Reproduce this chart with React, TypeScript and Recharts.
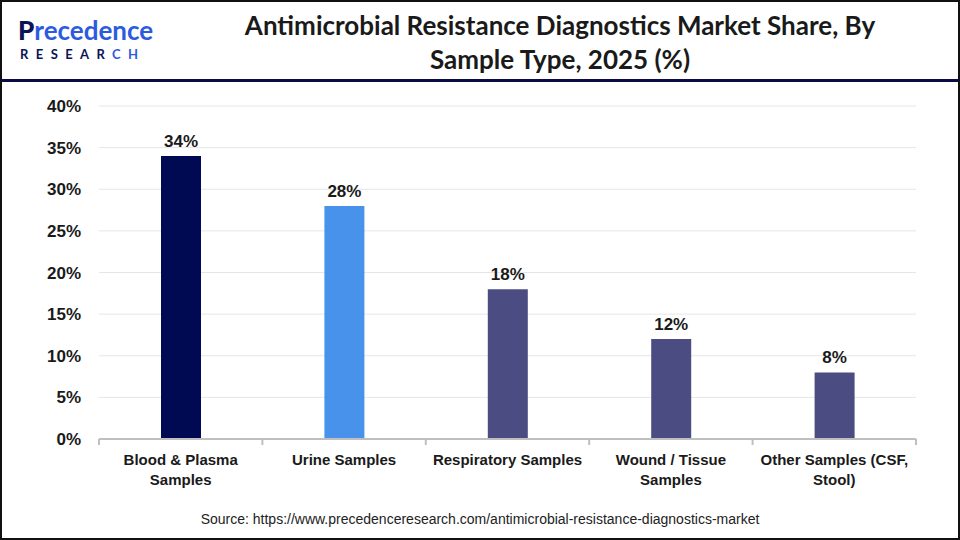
import { BarChart, Bar, XAxis, YAxis, CartesianGrid, LabelList, Cell } from "recharts";

const categories = [
  "Blood & Plasma\nSamples",
  "Urine Samples",
  "Respiratory Samples",
  "Wound / Tissue\nSamples",
  "Other Samples (CSF,\nStool)",
];
const shares = [34, 28, 18, 12, 8];
const barColors = ["#000a52", "#4992ec", "#4b4d82", "#4b4d82", "#4b4d82"];
const yTicks = [0, 5, 10, 15, 20, 25, 30, 35, 40];

const data = categories.map((name, i) => ({ name, value: shares[i] }));

const CategoryTick = (props: any) => {
  const { x, y, payload, index, visibleTicksCount } = props;
  const half = payload.offset ?? 81.7;
  const lines = String(payload.value).split("\n");
  const isLast = index === (visibleTicksCount ?? categories.length) - 1;
  return (
    <g>
      <line x1={x - half} x2={x - half} y1={y} y2={y + 6} stroke="#bfbfbf" strokeWidth={2} />
      {isLast && <line x1={x + half} x2={x + half} y1={y} y2={y + 6} stroke="#bfbfbf" strokeWidth={2} />}
      {lines.map((t, i) => (
        <text
          key={i}
          x={x}
          y={y + 26 + i * 20}
          textAnchor="middle"
          fill="#1a1a1a"
          fontSize={15}
          fontWeight="bold"
          fontFamily="Liberation Sans, Arial, sans-serif"
        >
          {t}
        </text>
      ))}
    </g>
  );
};

export default function App() {
  return (
    <div style={{ position: "absolute", left: 0, top: 0, width: 960, height: 540, background: "#fff", overflow: "hidden" }}>
      {/* logo */}
      <div
        style={{
          position: "absolute",
          left: 18,
          top: 15,
          height: 30,
          fontFamily: "Lato, sans-serif",
          fontSize: 26,
          lineHeight: "30px",
          fontWeight: 700,
          color: "#2c5be0",
        }}
      >
        <span style={{ color: "#0b1456", fontWeight: 900 }}>P</span>recedence
      </div>
      <div
        style={{
          position: "absolute",
          left: 20,
          top: 48,
          height: 13,
          fontFamily: "Lato, sans-serif",
          fontSize: 13,
          lineHeight: "13px",
          fontWeight: 700,
          color: "#0b1456",
          letterSpacing: 7.4,
        }}
      >
        RESEAR<span style={{ color: "#2c5be0" }}>CH</span>
      </div>
      {/* title */}
      <div
        style={{
          position: "absolute",
          left: 180,
          width: 760,
          top: 8,
          textAlign: "center",
          fontFamily: "Lato, sans-serif",
          fontWeight: 700,
          fontSize: 26,
          lineHeight: "34px",
          color: "#1a1a1a",
        }}
      >
        Antimicrobial Resistance Diagnostics Market Share, By
        <br />
        Sample Type, 2025 (%)
      </div>
      <div style={{ position: "absolute", left: 0, top: 79, width: 960, height: 3, background: "#0a0d45" }} />

      <div style={{ position: "absolute", left: 0, top: 0 }}>
        <BarChart width={960} height={540} data={data} margin={{ top: 106, right: 44, bottom: 51, left: 39 }}>
          <CartesianGrid vertical={false} stroke="#e6e6e6" />
          <XAxis
            dataKey="name"
            height={50}
            interval={0}
            tickSize={0}
            tickMargin={0}
            axisLine={{ stroke: "#bfbfbf", strokeWidth: 2 }}
            tickLine={false}
            tick={<CategoryTick />}
          />
          <YAxis
            width={60}
            domain={[0, 40]}
            ticks={yTicks}
            interval={0}
            axisLine={false}
            tickLine={false}
            tickMargin={12}
            tickFormatter={(v: number) => `${v}%`}
            tick={{ fill: "#1a1a1a", fontSize: 17, fontWeight: "bold", fontFamily: "Liberation Sans, Arial, sans-serif" }}
          />
          <Bar dataKey="value" barSize={40} isAnimationActive={false}>
            {data.map((d, i) => (
              <Cell key={d.name} fill={barColors[i]} />
            ))}
            <LabelList
              dataKey="value"
              position="top"
              offset={9}
              formatter={(v: any) => `${v}%`}
              fill="#1a1a1a"
              fontSize={17}
              fontWeight="bold"
              fontFamily="Liberation Sans, Arial, sans-serif"
            />
          </Bar>
        </BarChart>
      </div>

      <div
        style={{
          position: "absolute",
          left: 0,
          width: 960,
          top: 511,
          textAlign: "center",
          fontFamily: "Liberation Sans, Arial, sans-serif",
          fontSize: 14,
          color: "#222",
        }}
      >
        Source: https://www.precedenceresearch.com/antimicrobial-resistance-diagnostics-market
      </div>
      <div
        style={{
          position: "absolute",
          left: 0,
          top: 0,
          width: 960,
          height: 540,
          boxSizing: "border-box",
          border: "2px solid #111",
          pointerEvents: "none",
        }}
      />
    </div>
  );
}
